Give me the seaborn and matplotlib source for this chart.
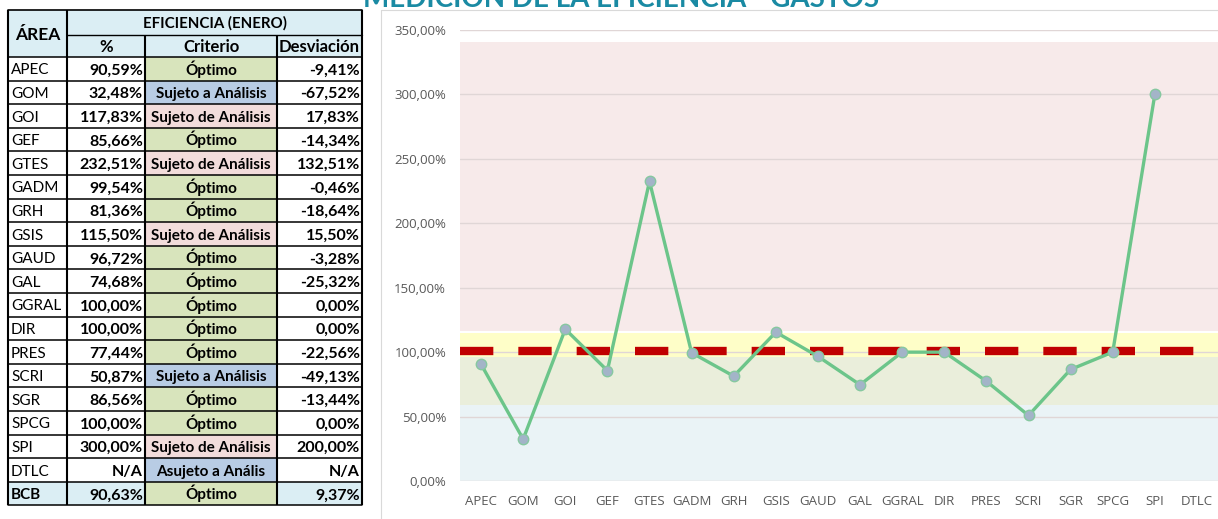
import matplotlib
matplotlib.use("Agg")
import matplotlib.pyplot as plt
from matplotlib.patches import Rectangle
from matplotlib.ticker import FuncFormatter
import seaborn as sns
import numpy as np
import pandas as pd

# ---------------- data ----------------
areas = ["APEC", "GOM", "GOI", "GEF", "GTES", "GADM", "GRH", "GSIS", "GAUD", "GAL",
         "GGRAL", "DIR", "PRES", "SCRI", "SGR", "SPCG", "SPI", "DTLC"]
eficiencia = [90.59, 32.48, 117.83, 85.66, 232.51, 99.54, 81.36, 115.50, 96.72, 74.68,
              100.00, 100.00, 77.44, 50.87, 86.56, 100.00, 300.00, np.nan]
criterio = ["Óptimo", "Sujeto a Análisis", "Sujeto de Análisis", "Óptimo", "Sujeto de Análisis",
            "Óptimo", "Óptimo", "Sujeto de Análisis", "Óptimo", "Óptimo", "Óptimo", "Óptimo",
            "Óptimo", "Sujeto a Análisis", "Óptimo", "Óptimo", "Sujeto de Análisis",
            "Asujeto a Anális"]
desviacion = ["-9,41%", "-67,52%", "17,83%", "-14,34%", "132,51%", "-0,46%", "-18,64%",
              "15,50%", "-3,28%", "-25,32%", "0,00%", "0,00%", "-22,56%", "-49,13%",
              "-13,44%", "0,00%", "200,00%", "N/A"]
total_row = ["BCB", "90,63%", "Óptimo", "9,37%"]
meta = 101.0
y_ticks = [0, 50, 100, 150, 200, 250, 300, 350]
# background bands (low, high, colour)
bandas = [(0, 59, "#eaf3f6"), (59, 96.5, "#eaeedb"), (96.5, 115, "#fefec8"), (116.5, 340.5, "#f7eaea")]
crit_colors = {"Óptimo": "#d8e4bc", "Sujeto a Análisis": "#b8cce4",
               "Sujeto de Análisis": "#f2dcdb", "Asujeto a Anális": "#b8cce4"}

def fmt_pct(v):
    if np.isnan(v):
        return "N/A"
    return f"{v:.2f}%".replace(".", ",")

sns.set_theme(style="white")
plt.rcParams["font.family"] = ["Lato", "DejaVu Sans"]

W, H = 1218, 519
fig = plt.figure(figsize=(W / 100, H / 100), dpi=100)
fig.patch.set_facecolor("white")

# ---------------- table (pixel coordinates) ----------------
tab = fig.add_axes([0, 0, 1, 1])
tab.set_xlim(0, W)
tab.set_ylim(H, 0)
tab.axis("off")

cols = [8, 67, 145, 277, 362]
hdr_top, hdr_mid, hdr_bot = 10, 35, 57
rh = 23.6
head_bg = "#dbeef4"

# header
tab.add_patch(Rectangle((cols[0], hdr_top), cols[4] - cols[0], hdr_bot - hdr_top,
                        facecolor=head_bg, edgecolor="none"))
tab.text((cols[0] + cols[1]) / 2, 40, "ÁREA", ha="center", va="baseline",
         fontsize=12.5, weight="bold", color="black")
tab.text((cols[1] + cols[4]) / 2, 28, "EFICIENCIA (ENERO)", ha="center",
         va="baseline", fontsize=10.8, weight="bold", color="black")
for i, lab in enumerate(["%", "Criterio", "Desviación"]):
    tab.text((cols[i + 1] + cols[i + 2]) / 2, 52, lab, ha="center",
             va="baseline", fontsize=12, weight="bold", color="black")

rows = []
for a, v, c, d in zip(areas, eficiencia, criterio, desviacion):
    rows.append((a, fmt_pct(v), c, d, False))
rows.append((total_row[0], total_row[1], total_row[2], total_row[3], True))

for r, (a, p, c, d, is_total) in enumerate(rows):
    y0 = hdr_bot + r * rh
    yb = y0 + 17.5
    if is_total:
        for k in (0, 1, 3):
            tab.add_patch(Rectangle((cols[k], y0), cols[k + 1] - cols[k], rh,
                                    facecolor=head_bg, edgecolor="none"))
    tab.add_patch(Rectangle((cols[2], y0), cols[3] - cols[2], rh,
                            facecolor=crit_colors[c], edgecolor="none"))
    tab.text(cols[0] + 3, yb, a, ha="left", va="baseline", fontsize=11,
             weight="bold" if is_total else "normal", color="black")
    tab.text(cols[2] - 2, yb, p, ha="right", va="baseline", fontsize=11.5, weight="bold", color="black")
    tab.text((cols[2] + cols[3]) / 2, yb, c, ha="center", va="baseline", fontsize=11,
             weight="bold", color="black")
    tab.text(cols[4] - 2, yb, d, ha="right", va="baseline", fontsize=11.5, weight="bold", color="black")

n_rows = len(rows)
bottom = hdr_bot + n_rows * rh
# grid lines of the table
for x in cols:
    ytop = hdr_top if x in (cols[0], cols[1], cols[4]) else hdr_mid
    tab.plot([x, x], [ytop, bottom], color="black", lw=1.5, solid_capstyle="butt")
tab.plot([cols[0], cols[4]], [hdr_top, hdr_top], color="black", lw=1.2)
tab.plot([cols[1], cols[4]], [hdr_mid, hdr_mid], color="black", lw=1.0)
for r in range(n_rows + 1):
    y = hdr_bot + r * rh
    tab.plot([cols[0], cols[4]], [y, y], color="black", lw=1.1)

# chart frame
tab.add_patch(Rectangle((381, 10), W, H, fill=False, edgecolor="#d9d9d9", lw=0.8))

# title (cut at the top as in the reference)
fig.text(621 / W, 1 - 7 / H, "MEDICIÓN DE LA EFICIENCIA - GASTOS", ha="center", va="baseline",
         fontsize=20, weight="bold", color="#1a8aa3")

# ---------------- chart ----------------
ax = fig.add_axes([460 / W, (H - 481) / H, (W - 460) / W, (481 - 30) / H])
ax.set_facecolor("white")
pos = np.arange(len(areas))
for lo, hi, col in bandas:
    ax.axhspan(lo, hi, facecolor=col, edgecolor="none", zorder=0.5)

ax.axhline(meta, color="#c00000", lw=6, dashes=(4, 3), zorder=3)

df = pd.DataFrame({"pos": pos, "ef": eficiencia})
sns.lineplot(data=df, x="pos", y="ef", ax=ax, color="#6cc58a", lw=2.4, marker="o",
             markersize=7.5, markerfacecolor="#a3b4c8", markeredgecolor="#86c8a0",
             markeredgewidth=1.0, zorder=4)

ax.set_xlim(-0.5, len(areas) - 0.5)
ax.set_ylim(0, 350)
ax.set_yticks(y_ticks)
ax.yaxis.set_major_formatter(FuncFormatter(lambda v, _: fmt_pct(v)))
ax.set_xticks(pos)
ax.set_xticklabels(areas)
ax.tick_params(axis="both", length=0, labelsize=9.5, colors="#595959")
for lbl in ax.get_xticklabels() + ax.get_yticklabels():
    lbl.set_fontfamily(["Open Sans", "DejaVu Sans"])
ax.tick_params(axis="x", pad=10)
ax.tick_params(axis="y", pad=10)
ax.grid(axis="y", color="#e0d6d6", lw=1.0)
ax.set_axisbelow(False)
for s in ax.spines.values():
    s.set_visible(False)
ax.set_xlabel("")
ax.set_ylabel("")

fig.savefig("out.png", dpi=100)
